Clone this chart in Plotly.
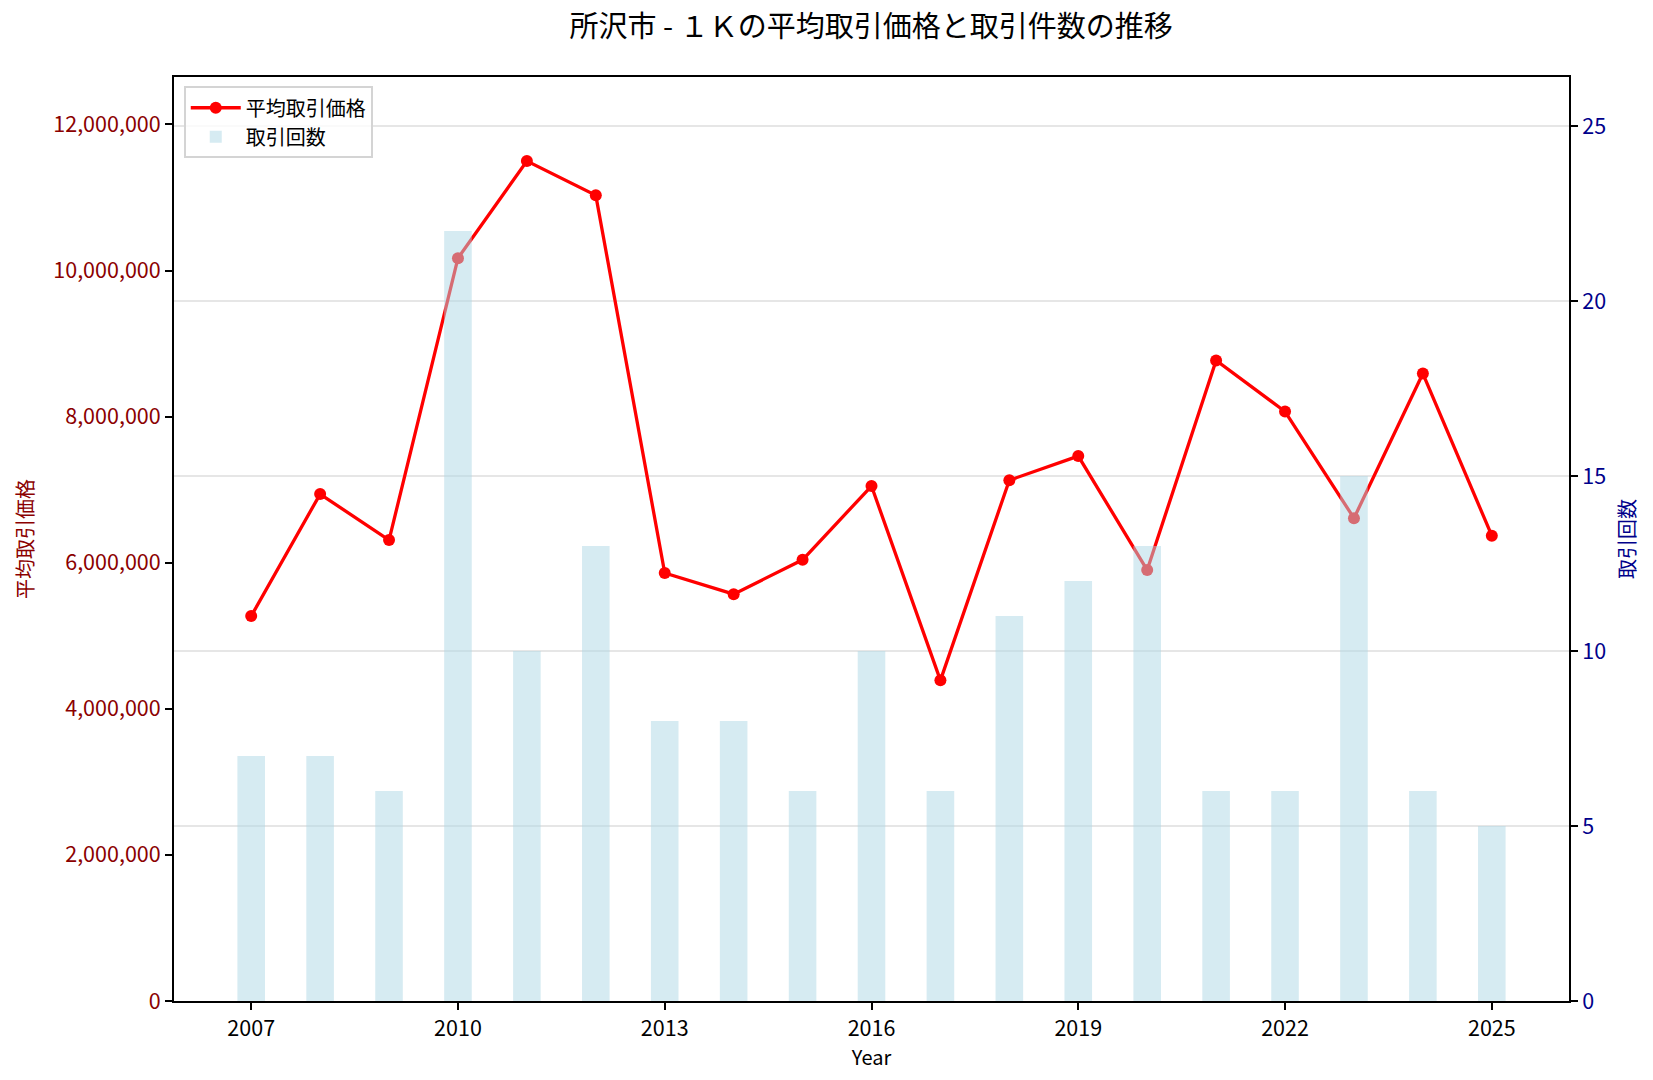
import plotly.graph_objects as go

years = list(range(2007, 2026))
avg_price = [5270000, 6940000, 6310000, 10170000, 11500000, 11030000, 5860000, 5570000,
             6040000, 7050000, 4390000, 7130000, 7460000, 5900000, 8770000, 8070000,
             6610000, 8590000, 6370000]
counts = [7, 7, 6, 22, 10, 13, 8, 8, 6, 10, 6, 11, 12, 13, 6, 6, 15, 6, 5]
x_ticks = [2007, 2010, 2013, 2016, 2019, 2022, 2025]
price_ticks = [0, 2000000, 4000000, 6000000, 8000000, 10000000, 12000000]
count_ticks = [0, 5, 10, 15, 20, 25]

title = "所沢市 - １Ｋの平均取引価格と取引件数の推移"
font_family = "Noto Sans CJK JP, Noto Sans, sans-serif"
tick_size = 21.5
label_size = 20

fig = go.Figure()
fig.add_trace(go.Scatter(
    x=years, y=avg_price, mode="lines+markers", name="平均取引価格",
    line=dict(color="#ff0000", width=3.3),
    marker=dict(color="#ff0000", size=12),
    yaxis="y",
))
fig.add_trace(go.Bar(
    x=years, y=counts, name="取引回数", width=0.4,
    marker=dict(color="rgba(173,216,230,0.5)", line=dict(width=0)),
    yaxis="y2",
))

fig.update_layout(
    width=1653, height=1080,
    margin=dict(l=174, r=84, t=77, b=79),
    paper_bgcolor="white", plot_bgcolor="white",
    font=dict(family=font_family, size=label_size, color="black"),
    title=dict(text=title, x=0.527, xanchor="center", y=0.975, yanchor="middle",
               font=dict(size=29, color="black", family=font_family)),
    showlegend=True,
    legend=dict(x=0.007, y=0.99, xanchor="left", yanchor="top",
                bgcolor="rgba(255,255,255,0.8)", bordercolor="#d4d4d4", borderwidth=2,
                font=dict(size=label_size, color="black"), traceorder="normal",
                itemwidth=50, tracegroupgap=0),
    xaxis=dict(
        range=[2005.88, 2026.12], tickmode="array", tickvals=x_ticks,
        ticks="outside", ticklen=7, tickwidth=1.5, tickcolor="black",
        showline=True, linecolor="black", linewidth=2, mirror=True,
        showgrid=False, zeroline=False,
        title=dict(text="Year", font=dict(size=label_size, color="black"), standoff=2),
        tickfont=dict(size=tick_size, color="black"),
    ),
    yaxis=dict(
        range=[0, 12650000], tickmode="array", tickvals=price_ticks,
        tickformat=",d",
        ticks="outside", ticklen=7, tickwidth=1.5, tickcolor="black",
        showline=True, linecolor="black", linewidth=2,
        showgrid=False, zeroline=False,
        tickfont=dict(size=tick_size, color="#8B0000"),
        title=dict(text="平均取引価格", font=dict(size=label_size, color="#8B0000"), standoff=14),
    ),
    yaxis2=dict(
        range=[0, 26.4], overlaying="y", side="right", tickmode="array",
        tickvals=count_ticks,
        ticks="outside", ticklen=7, tickwidth=1.5, tickcolor="black",
        showline=True, linecolor="black", linewidth=2,
        showgrid=True, gridcolor="rgba(128,128,128,0.2)", gridwidth=1.5, zeroline=False,
        tickfont=dict(size=tick_size, color="#00008B"),
        title=dict(text="取引回数", font=dict(size=label_size, color="#00008B"), standoff=16),
    ),
)

fig.write_html("out.html")
